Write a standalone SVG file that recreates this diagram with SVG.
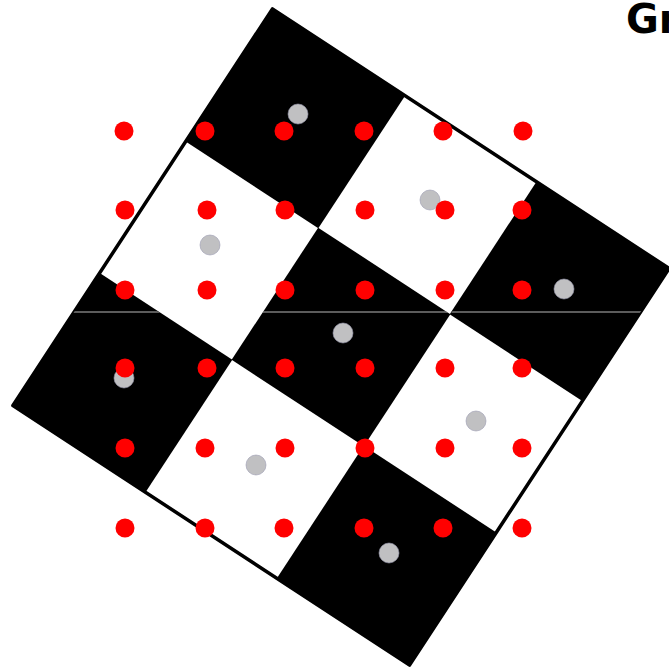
<svg xmlns="http://www.w3.org/2000/svg" width="669" height="671" viewBox="0 0 669 671">
<style>
.blk{fill:#000}
.wht{fill:#fff}
.rd{fill:#ff0000}
.gy{fill:#c0c0c2;stroke:#9a9ab0;stroke-width:0.6}
.ttl{font-family:"DejaVu Sans",sans-serif;font-weight:bold;font-size:40px;fill:#000}
</style>
<defs>
<clipPath id="blackCells">
<rect transform="translate(341,337) rotate(33.2)" x="-237" y="-237" width="158" height="158"/>
<rect transform="translate(341,337) rotate(33.2)" x="79" y="-237" width="158" height="158"/>
<rect transform="translate(341,337) rotate(33.2)" x="-79" y="-79" width="158" height="158"/>
<rect transform="translate(341,337) rotate(33.2)" x="-237" y="79" width="158" height="158"/>
<rect transform="translate(341,337) rotate(33.2)" x="79" y="79" width="158" height="158"/>
</clipPath>
</defs>
<rect width="669" height="671" fill="#fff"/>
<g id="board" transform="translate(341,337) rotate(33.2)">
<rect class="wht" x="-237" y="-237" width="474" height="474"/>
<rect class="blk" x="-237" y="-237" width="158.5" height="158.5"/>
<rect class="blk" x="78.5" y="-237" width="158.5" height="158.5"/>
<rect class="blk" x="-79" y="-79" width="158" height="158"/>
<rect class="blk" x="-237" y="78.5" width="158.5" height="158.5"/>
<rect class="blk" x="78.5" y="78.5" width="158.5" height="158.5"/>
<rect x="-237" y="-237" width="474" height="474" fill="none" stroke="#000" stroke-width="3.5" stroke-linejoin="round"/>
</g>
<line x1="0" y1="312" x2="669" y2="312" stroke="#b8b8b8" stroke-width="1" clip-path="url(#blackCells)"/>
<g id="gray-dots">
<circle class="gy" cx="298" cy="114" r="10"/>
<circle class="gy" cx="430" cy="200" r="10"/>
<circle class="gy" cx="210" cy="245" r="10"/>
<circle class="gy" cx="564" cy="289" r="10"/>
<circle class="gy" cx="343" cy="333" r="10"/>
<circle class="gy" cx="124" cy="378" r="10"/>
<circle class="gy" cx="476" cy="421" r="10"/>
<circle class="gy" cx="256" cy="465" r="10"/>
<circle class="gy" cx="389" cy="553" r="10"/>
</g>
<g id="red-dots">
<circle class="rd" cx="124" cy="131" r="9.5"/>
<circle class="rd" cx="205" cy="131" r="9.5"/>
<circle class="rd" cx="284" cy="131" r="9.5"/>
<circle class="rd" cx="364" cy="131" r="9.5"/>
<circle class="rd" cx="443" cy="131" r="9.5"/>
<circle class="rd" cx="523" cy="131" r="9.5"/>
<circle class="rd" cx="125" cy="210" r="9.5"/>
<circle class="rd" cx="207" cy="210" r="9.5"/>
<circle class="rd" cx="285" cy="210" r="9.5"/>
<circle class="rd" cx="365" cy="210" r="9.5"/>
<circle class="rd" cx="445" cy="210" r="9.5"/>
<circle class="rd" cx="522" cy="210" r="9.5"/>
<circle class="rd" cx="125" cy="290" r="9.5"/>
<circle class="rd" cx="207" cy="290" r="9.5"/>
<circle class="rd" cx="285" cy="290" r="9.5"/>
<circle class="rd" cx="365" cy="290" r="9.5"/>
<circle class="rd" cx="445" cy="290" r="9.5"/>
<circle class="rd" cx="522" cy="290" r="9.5"/>
<circle class="rd" cx="125" cy="368" r="9.5"/>
<circle class="rd" cx="207" cy="368" r="9.5"/>
<circle class="rd" cx="285" cy="368" r="9.5"/>
<circle class="rd" cx="365" cy="368" r="9.5"/>
<circle class="rd" cx="445" cy="368" r="9.5"/>
<circle class="rd" cx="522" cy="368" r="9.5"/>
<circle class="rd" cx="125" cy="448" r="9.5"/>
<circle class="rd" cx="205" cy="448" r="9.5"/>
<circle class="rd" cx="285" cy="448" r="9.5"/>
<circle class="rd" cx="365" cy="448" r="9.5"/>
<circle class="rd" cx="445" cy="448" r="9.5"/>
<circle class="rd" cx="522" cy="448" r="9.5"/>
<circle class="rd" cx="125" cy="528" r="9.5"/>
<circle class="rd" cx="205" cy="528" r="9.5"/>
<circle class="rd" cx="284" cy="528" r="9.5"/>
<circle class="rd" cx="364" cy="528" r="9.5"/>
<circle class="rd" cx="443" cy="528" r="9.5"/>
<circle class="rd" cx="522" cy="528" r="9.5"/>
</g>
<g id="title"><text class="ttl" x="626" y="33">Gr</text></g>
</svg>
